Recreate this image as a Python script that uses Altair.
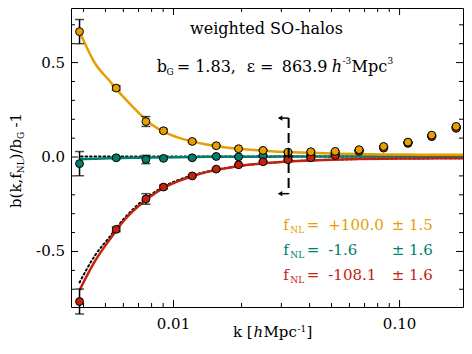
import altair as alt
import pandas as pd

# ---------------- data ----------------
k_bins = [0.00384, 0.00558, 0.00755, 0.00903, 0.0121, 0.01545, 0.0194, 0.0249,
          0.0321, 0.0405, 0.0519, 0.0662, 0.0850, 0.1089, 0.1387, 0.178]
b_pos = [0.664, 0.365, 0.188, 0.139, 0.0825, 0.060, 0.044, 0.035,
         0.026, 0.028, 0.030, 0.039, 0.056, 0.079, 0.116, 0.162]
b_zero = [-0.035, -0.004, -0.013, -0.007, -0.004, 0.003, 0.001, 0.007,
          0.003, 0.012, 0.019, 0.035, 0.052, 0.077, 0.112, 0.158]
b_neg = [-0.765, -0.383, -0.222, -0.159, -0.100, -0.064, -0.041, -0.025,
         -0.014, -0.004, 0.008, 0.030, 0.047, 0.072, 0.108, 0.152]
err_pos = [0.064, 0.012, 0.026, 0.008, 0.005, 0.004, 0.003, 0.003,
           0.003, 0.003, 0.003, 0.003, 0.003, 0.003, 0.003, 0.003]
err_zero = [0.064, 0.006, 0.022, 0.006, 0.005, 0.004, 0.003, 0.003,
            0.003, 0.003, 0.003, 0.003, 0.003, 0.003, 0.003, 0.003]
err_neg = [0.066, 0.012, 0.028, 0.010, 0.005, 0.004, 0.003, 0.003,
           0.003, 0.003, 0.003, 0.003, 0.003, 0.003, 0.003, 0.003]

k_model = [0.00384, 0.0045, 0.0052, 0.0060, 0.0070, 0.0080, 0.0090, 0.0105,
           0.012, 0.014, 0.016, 0.019, 0.022, 0.026, 0.032, 0.04, 0.05,
           0.065, 0.085, 0.11, 0.15, 0.2]
model_pos = [0.664, 0.495, 0.405, 0.318, 0.235, 0.172, 0.135, 0.103,
             0.083, 0.066, 0.055, 0.045, 0.038, 0.032, 0.026, 0.022, 0.019,
             0.016, 0.014, 0.013, 0.012, 0.012]
model_zero = [-0.012, -0.009, -0.007, -0.005, -0.004, -0.003, -0.002, -0.001,
              0.0, 0.001, 0.001, 0.002, 0.002, 0.002, 0.003, 0.003, 0.003,
              0.003, 0.003, 0.003, 0.003, 0.003]
model_neg = [-0.705, -0.55, -0.44, -0.34, -0.26, -0.205, -0.165, -0.128,
             -0.103, -0.080, -0.065, -0.050, -0.040, -0.032, -0.024, -0.018,
             -0.014, -0.011, -0.009, -0.008, -0.007, -0.007]
mirror_neg = [-0.664, -0.52, -0.425, -0.33, -0.25, -0.197, -0.158, -0.122,
              -0.098, -0.078, -0.064, -0.050, -0.040, -0.032, -0.024, -0.018,
              -0.014, -0.011, -0.009, -0.008, -0.007, -0.007]
k_zero_ref = [0.0039, 0.2]
zero_ref = [0.003, 0.003]

cut_k = 0.0323
cut_tip_k = 0.0296
cut_y = [0.206, -0.194]

y_major = [-0.5, 0.0, 0.5]
y_labels = ["-0.5", "0.0", "0.5"]
y_minor = [-0.7, -0.6, -0.4, -0.3, -0.2, -0.1, 0.1, 0.2, 0.3, 0.4, 0.6, 0.7]
x_major = [0.01, 0.1]
x_labels = ["0.01", "0.10"]
x_minor = [0.004, 0.005, 0.006, 0.007, 0.008, 0.009,
           0.02, 0.03, 0.04, 0.05, 0.06, 0.07, 0.08, 0.09]

fnl_vals = ["+100.0", "-1.6", "-108.1"]
fnl_errs = ["\u00b1 1.5", "\u00b1 1.6", "\u00b1 1.6"]
colors = ["#E69F00", "#00806C", "#C3220F"]
ORANGE, TEAL, RED = colors

title_text = "weighted SO-halos"

# ---------------- layout ----------------
W, H = 392, 299
FONT = "DejaVu Serif"
xs = alt.Scale(type="log", domain=[0.00352, 0.1908], nice=False)
ys = alt.Scale(domain=[-0.794, 0.789], nice=False)


def X(f):
    return alt.X(f, scale=xs, axis=None)


def Y(f):
    return alt.Y(f, scale=ys, axis=None)


def line_layer(kk, vv, color, width=2.5, dash=None):
    df = pd.DataFrame({"k": kk, "b": vv})
    kw = dict(color=color, strokeWidth=width, interpolate="monotone", clip=True)
    if dash:
        kw["strokeDash"] = dash
        kw["strokeCap"] = "round"
    return alt.Chart(df).mark_line(**kw).encode(x=X("k:Q"), y=Y("b:Q"), order="k:Q")


def err_layers(kk, vv, ee):
    df = pd.DataFrame({"k": kk, "b": vv, "e": ee})
    base = alt.Chart(df).transform_calculate(lo="datum.b - datum.e", hi="datum.b + datum.e")
    bar = base.mark_rule(color="black", strokeWidth=1.5).encode(x=X("k:Q"), y=Y("lo:Q"), y2="hi:Q")
    cap_lo = base.mark_tick(color="black", thickness=1.5, size=9, orient="horizontal").encode(
        x=X("k:Q"), y=Y("lo:Q"))
    cap_hi = base.mark_tick(color="black", thickness=1.5, size=9, orient="horizontal").encode(
        x=X("k:Q"), y=Y("hi:Q"))
    return [bar, cap_lo, cap_hi]


def pt_layer(kk, vv, color):
    df = pd.DataFrame({"k": kk, "b": vv})
    return alt.Chart(df).mark_point(
        filled=True, fill=color, stroke="black", strokeWidth=1, size=62, opacity=1
    ).encode(x=X("k:Q"), y=Y("b:Q"))


def txt(text, x, y, size=16, color="black", style="normal", angle=0):
    return alt.Chart(pd.DataFrame({"t": [text]})).mark_text(
        align="left", baseline="alphabetic", font=FONT, fontSize=size,
        color=color, fontStyle=style, angle=angle,
    ).encode(x=alt.value(x), y=alt.value(y), text="t:N")


layers = []

# tick labels
layers.append(alt.Chart(pd.DataFrame({"v": y_major, "t": y_labels})).mark_text(
    align="right", baseline="middle", font=FONT, fontSize=15, color="black").encode(
    y=Y("v:Q"), x=alt.value(-6), text="t:N"))
layers.append(alt.Chart(pd.DataFrame({"v": x_major, "t": x_labels})).mark_text(
    align="center", baseline="alphabetic", font=FONT, fontSize=15, color="black").encode(
    x=X("v:Q"), y=alt.value(320.5), text="t:N"))


# frame ticks (inward)
def yticks(vals, length):
    df = pd.DataFrame({"v": vals})
    left = alt.Chart(df).mark_rule(color="black", strokeWidth=1).encode(
        y=Y("v:Q"), x=alt.value(0), x2=alt.value(length))
    right = alt.Chart(df).mark_rule(color="black", strokeWidth=1).encode(
        y=Y("v:Q"), x=alt.value(W), x2=alt.value(W - length))
    return [left, right]


def xticks(vals, length):
    df = pd.DataFrame({"v": vals})
    bot = alt.Chart(df).mark_rule(color="black", strokeWidth=1).encode(
        x=X("v:Q"), y=alt.value(H), y2=alt.value(H - length))
    top = alt.Chart(df).mark_rule(color="black", strokeWidth=1).encode(
        x=X("v:Q"), y=alt.value(0), y2=alt.value(length))
    return [bot, top]


layers += yticks(y_major, 7) + yticks(y_minor, 4) + xticks(x_major, 7) + xticks(x_minor, 4)

# model curves
layers.append(line_layer(k_zero_ref, zero_ref, "black", 2, [1.5, 3]))
layers.append(line_layer(k_model, mirror_neg, "black", 2, [1.5, 3]))
layers.append(line_layer(k_model, model_zero, TEAL, 2.5))
layers.append(line_layer(k_model, model_neg, RED, 2.5))
layers.append(line_layer(k_model, model_pos, ORANGE, 2.5))

# error bars
layers += err_layers(k_bins, b_zero, err_zero)
layers += err_layers(k_bins, b_neg, err_neg)
layers += err_layers(k_bins, b_pos, err_pos)

# points
layers.append(pt_layer(k_bins, b_zero, TEAL))
layers.append(pt_layer(k_bins, b_neg, RED))
layers.append(pt_layer(k_bins, b_pos, ORANGE))

# k-cut marker
cut_df = pd.DataFrame({"k": [cut_k], "y1": [cut_y[0]], "y2": [cut_y[1]]})
layers.append(alt.Chart(cut_df).mark_rule(color="black", strokeWidth=2, strokeDash=[10, 5]).encode(
    x=X("k:Q"), y=Y("y1:Q"), y2="y2:Q"))
arr_df = pd.DataFrame({"k": [cut_k] * 2, "tip": [cut_tip_k] * 2, "y": cut_y})
layers.append(alt.Chart(arr_df).mark_rule(color="black", strokeWidth=1.5).encode(
    x=X("k:Q"), x2="tip:Q", y=Y("y:Q")))
layers.append(alt.Chart(arr_df).mark_point(shape="triangle-left", filled=True, color="black",
                                           size=28, opacity=1).encode(x=X("tip:Q"), y=Y("y:Q")))

# annotations
layers.append(txt(title_text, 119, 25.5))
layers.append(txt("b", 85.7, 63.7))
layers.append(txt("G", 95.5, 66.5, size=9))
layers.append(txt("= 1.83,", 105.7, 63.7))
layers.append(txt("\u03b5 =", 175.7, 63.7))
layers.append(txt("863.9", 210.7, 63.7))
layers.append(txt("h", 260.7, 63.7, style="italic"))
layers.append(txt("-3", 271.5, 56, size=9))
layers.append(txt("Mpc", 280.5, 63.7))
layers.append(txt("3", 316.5, 56, size=9))

for i, (val, er, col) in enumerate(zip(fnl_vals, fnl_errs, colors)):
    yb = 222 + 25 * i
    layers.append(txt("f", 212.3, yb, size=15, color=col))
    layers.append(txt("NL", 219.3, yb + 3.3, size=9, color=col))
    layers.append(txt("=", 235.7, yb, size=15, color=col))
    layers.append(txt(val, 257.3, yb, size=15, color=col))
    layers.append(txt(er, 320.7, yb, size=15, color=col))

# x-axis title
layers.append(txt("k [", 162, 328.7, size=15))
layers.append(txt("h", 182.5, 328.7, size=15, style="italic"))
layers.append(txt("Mpc", 192.5, 328.7, size=15))
layers.append(txt("-1", 226.5, 323.7, size=9))
layers.append(txt("]", 235.5, 328.7, size=15))

# y-axis title (rotated)
layers.append(txt("b(k,f", -50.5, 200, size=15, angle=270))
layers.append(txt("NL", -47, 165.2, size=9, angle=270))
layers.append(txt(")/b", -50.5, 151.4, size=15, angle=270))
layers.append(txt("G", -47, 130.9, size=9, angle=270))
layers.append(txt("-1", -50.5, 119.5, size=15, angle=270))

chart = alt.layer(*layers).properties(
    width=W, height=H,
    autosize=alt.AutoSizeParams(type="none"),
    padding={"left": 63, "top": 0, "right": 1, "bottom": 39},
).configure_view(stroke="black", strokeWidth=1)

chart.save("out.html", embed_options={"renderer": "svg", "actions": False})
